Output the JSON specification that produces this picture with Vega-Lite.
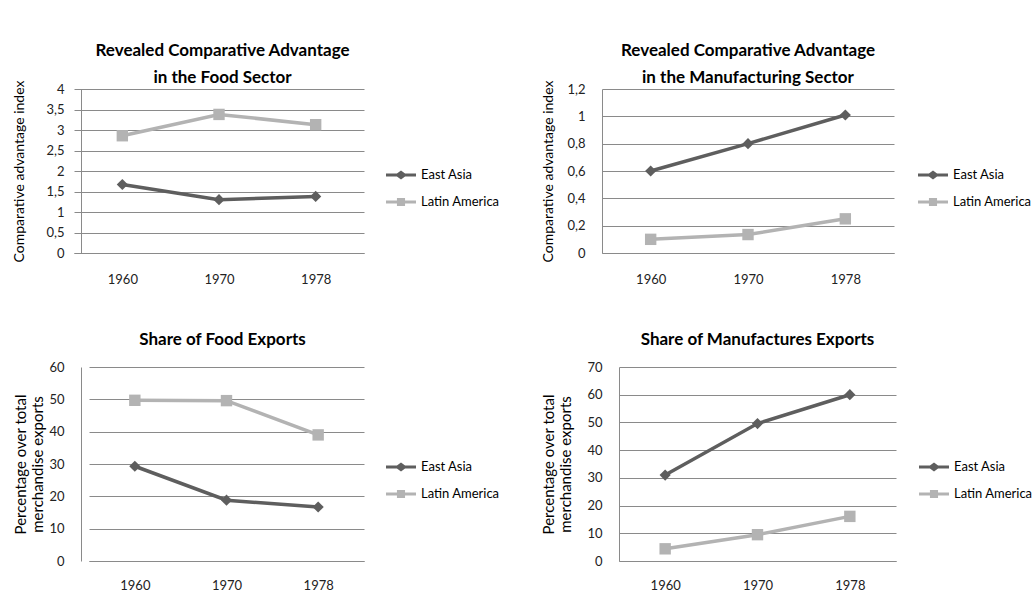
{
  "$schema": "https://vega.github.io/schema/vega-lite/v6.json",
  "background": "white",
  "padding": {"left": 11, "top": 42, "right": 0, "bottom": 0},
  "config": {
    "font": "Lato",
    "view": {"stroke": null},
    "title": {"font": "Lato", "fontSize": 17, "fontWeight": "bold", "color": "#000000", "lineHeight": 27, "anchor": "middle"},
    "axis": {
      "labelFont": "Lato", "labelFontSize": 13, "labelColor": "#222222",
      "titleFont": "Lato", "titleFontSize": 14, "titleFontWeight": "normal", "titleColor": "#000000",
      "gridColor": "#8a8a8a", "gridOpacity": 1, "domainColor": "#8a8a8a", "ticks": false
    },
    "legend": {"labelFont": "Lato", "labelFontSize": 13, "labelColor": "#000000"}
  },
  "datasets": {
    "foodRca": [
      {"year": "1960", "region": "East Asia", "value": 1.67},
      {"year": "1970", "region": "East Asia", "value": 1.30},
      {"year": "1978", "region": "East Asia", "value": 1.38},
      {"year": "1960", "region": "Latin America", "value": 2.86},
      {"year": "1970", "region": "Latin America", "value": 3.38},
      {"year": "1978", "region": "Latin America", "value": 3.13}
    ],
    "manuRca": [
      {"year": "1960", "region": "East Asia", "value": 0.60},
      {"year": "1970", "region": "East Asia", "value": 0.80},
      {"year": "1978", "region": "East Asia", "value": 1.01},
      {"year": "1960", "region": "Latin America", "value": 0.10},
      {"year": "1970", "region": "Latin America", "value": 0.135},
      {"year": "1978", "region": "Latin America", "value": 0.25}
    ],
    "foodShare": [
      {"year": "1960", "region": "East Asia", "value": 29.3},
      {"year": "1970", "region": "East Asia", "value": 18.8},
      {"year": "1978", "region": "East Asia", "value": 16.7},
      {"year": "1960", "region": "Latin America", "value": 49.7},
      {"year": "1970", "region": "Latin America", "value": 49.6},
      {"year": "1978", "region": "Latin America", "value": 39.0}
    ],
    "manuShare": [
      {"year": "1960", "region": "East Asia", "value": 31.0},
      {"year": "1970", "region": "East Asia", "value": 49.6},
      {"year": "1978", "region": "East Asia", "value": 60.0},
      {"year": "1960", "region": "Latin America", "value": 4.4},
      {"year": "1970", "region": "Latin America", "value": 9.5},
      {"year": "1978", "region": "Latin America", "value": 16.1}
    ]
  },
  "resolve": {"scale": {"color": "independent"}, "legend": {"color": "independent"}},
  "columns": 2,
  "align": "none",
  "spacing": {"row": 45, "column": 40},
  "concat": [
    {
      "width": 283, "height": 164,
      "title": {"text": ["Revealed Comparative Advantage", "in the Food Sector"], "offset": -7},
      "data": {"name": "foodRca"},
      "encoding": {
        "x": {"field": "year", "type": "ordinal", "scale": {"type": "point", "padding": 0.5, "range": [-7, 283]}, "axis": {"title": null, "labelAngle": 0, "labelPadding": 20, "grid": false}},
        "y": {"field": "value", "type": "quantitative", "scale": {"domain": [0, 4], "nice": false}, "axis": {"title": "Comparative advantage index", "titleX": -55, "values": [0, 0.5, 1, 1.5, 2, 2.5, 3, 3.5, 4], "labelExpr": "replace(format(datum.value, '~g'), '.', ',')", "labelPadding": 17}},
        "color": {"field": "region", "type": "nominal", "scale": {"domain": ["East Asia", "Latin America"], "range": ["#5e5e5e", "#b3b3b3"]},
          "legend": {"title": null, "orient": "none", "legendX": 305, "legendY": 71, "symbolSize": 900, "rowPadding": 5, "labelOffset": 5,
            "encode": {"symbols": {"update": {
              "shape": [{"test": "datum.value === 'East Asia'", "value": "M-1,-0.1H-0.27L0,-0.3L0.27,-0.1H1V0.1H0.27L0,0.3L-0.27,0.1H-1Z"}, {"value": "M-1,-0.1H-0.27V-0.27H0.27V-0.1H1V0.1H0.27V0.27H-0.27V0.1H-1Z"}],
              "fill": [{"test": "datum.value === 'East Asia'", "value": "#5e5e5e"}, {"value": "#b3b3b3"}],
              "strokeWidth": {"value": 0}, "opacity": {"value": 1}}}}}}
      },
      "layer": [
        {"mark": {"type": "line", "strokeWidth": 3.5}},
        {"transform": [{"filter": "datum.region === 'East Asia'"}], "mark": {"type": "point", "shape": "diamond", "filled": true, "opacity": 1, "size": 125}},
        {"transform": [{"filter": "datum.region === 'Latin America'"}], "mark": {"type": "point", "shape": "square", "filled": true, "opacity": 1, "size": 130}}
      ]
    },
    {
      "width": 292, "height": 164,
      "title": {"text": ["Revealed Comparative Advantage", "in the Manufacturing Sector"], "offset": -7},
      "data": {"name": "manuRca"},
      "encoding": {
        "x": {"field": "year", "type": "ordinal", "scale": {"type": "point", "padding": 0.5}, "axis": {"title": null, "labelAngle": 0, "labelPadding": 20, "grid": false}},
        "y": {"field": "value", "type": "quantitative", "scale": {"domain": [0, 1.2], "nice": false}, "axis": {"title": "Comparative advantage index", "titleX": -47, "values": [0, 0.2, 0.4, 0.6, 0.8, 1, 1.2], "labelExpr": "replace(format(datum.value, '~g'), '.', ',')", "labelPadding": 17}},
        "color": {"field": "region", "type": "nominal", "scale": {"domain": ["East Asia", "Latin America"], "range": ["#5e5e5e", "#b3b3b3"]},
          "legend": {"title": null, "orient": "none", "legendX": 316, "legendY": 71, "symbolSize": 900, "rowPadding": 5, "labelOffset": 5,
            "encode": {"symbols": {"update": {
              "shape": [{"test": "datum.value === 'East Asia'", "value": "M-1,-0.1H-0.27L0,-0.3L0.27,-0.1H1V0.1H0.27L0,0.3L-0.27,0.1H-1Z"}, {"value": "M-1,-0.1H-0.27V-0.27H0.27V-0.1H1V0.1H0.27V0.27H-0.27V0.1H-1Z"}],
              "fill": [{"test": "datum.value === 'East Asia'", "value": "#5e5e5e"}, {"value": "#b3b3b3"}],
              "strokeWidth": {"value": 0}, "opacity": {"value": 1}}}}}}
      },
      "layer": [
        {"mark": {"type": "line", "strokeWidth": 3.5}},
        {"transform": [{"filter": "datum.region === 'East Asia'"}], "mark": {"type": "point", "shape": "diamond", "filled": true, "opacity": 1, "size": 125}},
        {"transform": [{"filter": "datum.region === 'Latin America'"}], "mark": {"type": "point", "shape": "square", "filled": true, "opacity": 1, "size": 130}}
      ]
    },
    {
      "width": 283, "height": 194,
      "title": {"text": "Share of Food Exports", "offset": 12},
      "data": {"name": "foodShare"},
      "encoding": {
        "x": {"field": "year", "type": "ordinal", "scale": {"type": "point", "padding": 0.5, "range": [8, 283]}, "axis": {"title": null, "labelAngle": 0, "labelPadding": 18, "grid": false}},
        "y": {"field": "value", "type": "quantitative", "scale": {"domain": [0, 60], "nice": false}, "axis": {"title": ["Percentage over total", "merchandise exports"], "titleFontSize": 15, "titleLineHeight": 17.5, "titleX": -53, "values": [0, 10, 20, 30, 40, 50, 60], "labelPadding": 17}},
        "color": {"field": "region", "type": "nominal", "scale": {"domain": ["East Asia", "Latin America"], "range": ["#5e5e5e", "#b3b3b3"]},
          "legend": {"title": null, "orient": "none", "legendX": 305, "legendY": 85, "symbolSize": 900, "rowPadding": 5, "labelOffset": 5,
            "encode": {"symbols": {"update": {
              "shape": [{"test": "datum.value === 'East Asia'", "value": "M-1,-0.1H-0.27L0,-0.3L0.27,-0.1H1V0.1H0.27L0,0.3L-0.27,0.1H-1Z"}, {"value": "M-1,-0.1H-0.27V-0.27H0.27V-0.1H1V0.1H0.27V0.27H-0.27V0.1H-1Z"}],
              "fill": [{"test": "datum.value === 'East Asia'", "value": "#5e5e5e"}, {"value": "#b3b3b3"}],
              "strokeWidth": {"value": 0}, "opacity": {"value": 1}}}}}}
      },
      "layer": [
        {"mark": {"type": "line", "strokeWidth": 3.5}},
        {"transform": [{"filter": "datum.region === 'East Asia'"}], "mark": {"type": "point", "shape": "diamond", "filled": true, "opacity": 1, "size": 125}},
        {"transform": [{"filter": "datum.region === 'Latin America'"}], "mark": {"type": "point", "shape": "square", "filled": true, "opacity": 1, "size": 130}}
      ]
    },
    {
      "width": 277, "height": 194,
      "title": {"text": "Share of Manufactures Exports", "offset": 12},
      "data": {"name": "manuShare"},
      "encoding": {
        "x": {"field": "year", "type": "ordinal", "scale": {"type": "point", "padding": 0.5}, "axis": {"title": null, "labelAngle": 0, "labelPadding": 18, "grid": false}},
        "y": {"field": "value", "type": "quantitative", "scale": {"domain": [0, 70], "nice": false}, "axis": {"title": ["Percentage over total", "merchandise exports"], "titleFontSize": 15, "titleLineHeight": 17.5, "titleX": -63, "values": [0, 10, 20, 30, 40, 50, 60, 70], "labelPadding": 17}},
        "color": {"field": "region", "type": "nominal", "scale": {"domain": ["East Asia", "Latin America"], "range": ["#5e5e5e", "#b3b3b3"]},
          "legend": {"title": null, "orient": "none", "legendX": 300, "legendY": 85, "symbolSize": 900, "rowPadding": 5, "labelOffset": 5,
            "encode": {"symbols": {"update": {
              "shape": [{"test": "datum.value === 'East Asia'", "value": "M-1,-0.1H-0.27L0,-0.3L0.27,-0.1H1V0.1H0.27L0,0.3L-0.27,0.1H-1Z"}, {"value": "M-1,-0.1H-0.27V-0.27H0.27V-0.1H1V0.1H0.27V0.27H-0.27V0.1H-1Z"}],
              "fill": [{"test": "datum.value === 'East Asia'", "value": "#5e5e5e"}, {"value": "#b3b3b3"}],
              "strokeWidth": {"value": 0}, "opacity": {"value": 1}}}}}}
      },
      "layer": [
        {"mark": {"type": "line", "strokeWidth": 3.5}},
        {"transform": [{"filter": "datum.region === 'East Asia'"}], "mark": {"type": "point", "shape": "diamond", "filled": true, "opacity": 1, "size": 125}},
        {"transform": [{"filter": "datum.region === 'Latin America'"}], "mark": {"type": "point", "shape": "square", "filled": true, "opacity": 1, "size": 130}}
      ]
    }
  ]
}
